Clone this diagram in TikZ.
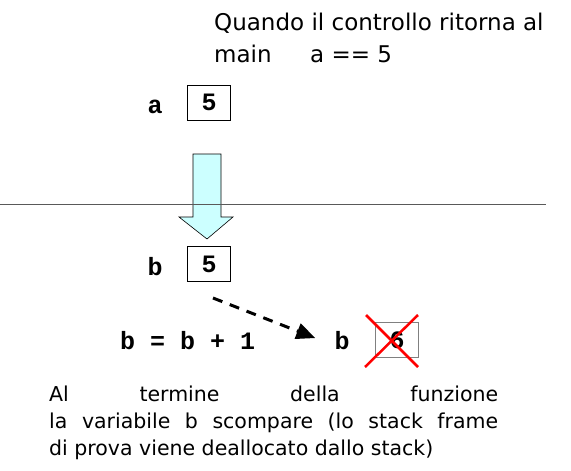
\documentclass[tikz,border=0pt]{standalone}
\usepackage{fontspec}
\setmainfont{DejaVu Sans}
\setmonofont{Liberation Mono}
\usetikzlibrary{arrows.meta}
\definecolor{palecyan}{HTML}{CCFFFF}
\begin{document}
\begin{tikzpicture}[x=1pt,y=-1pt,
  var/.style={font=\ttfamily\bfseries\fontsize{25}{28}\selectfont,inner sep=0pt},
  cell/.style={var,draw,line width=0.8pt,minimum width=43pt,minimum height=35pt},
  note/.style={font=\fontsize{20.5}{27}\selectfont,inner sep=0pt},
  cross/.style={red,line width=2.5pt}]
\useasboundingbox (0,0) rectangle (571,471);
\node[note,font=\fontsize{23}{32}\selectfont,anchor=north west,align=left] (msg) at (214,13)
  {Quando il controllo ritorna al\\\makebox[96pt][l]{main}a == 5};
\node[var,anchor=base] (aname) at (155,113) {a};
\node[cell] (abox) at (209,102.5) {5};
\draw [fill=palecyan,line width=0.6pt] (193,154) -- (221,154) -- (221,217) -- (233,217)
  -- (207,239) -- (179,217) -- (193,217) -- cycle;
\draw [gray!70!black,line width=1pt] (0,204) -- (546,204);
\node[var,anchor=base] (bname) at (155,275) {b};
\node[cell] (bbox) at (209,264) {5};
\node[var,anchor=base west] (incr) at (120,349) {b = b + 1};
\node[var,anchor=base] (bnew) at (342,349) {b};
\node[cell,draw=gray] (bgone) at (397,340) {6};
\draw [cross] (366,315) -- (418,367);
\draw [cross] (418,315) -- (365,367);
\coordinate (dfrom) at (213,298);
\draw [line width=3pt,dash pattern=on 10pt off 8pt,-{Triangle[length=19pt,width=16pt]}]
  (dfrom) -- ([xshift=-19pt,yshift=2pt]bnew.west);
\node[note,anchor=north west,text width=449pt,align=justify] (end) at (49,386)
  {Al termine della funzione\linebreak la variabile b scompare (lo stack frame\linebreak di prova viene deallocato dallo stack)};
\end{tikzpicture}
\end{document}
